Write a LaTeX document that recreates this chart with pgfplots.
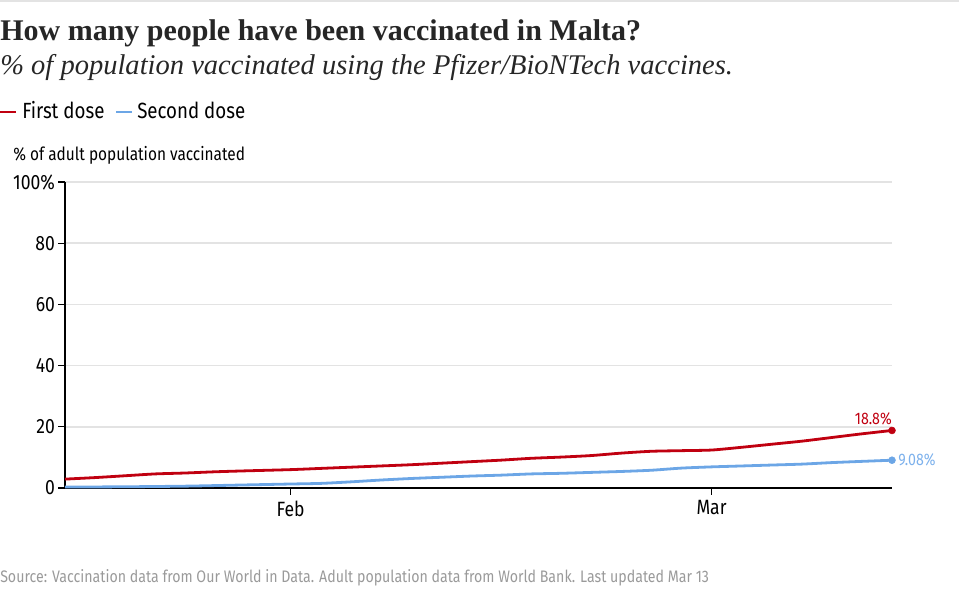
\documentclass[border=0pt]{standalone}
\usepackage{pgfplots}
\pgfplotsset{compat=1.18}
\usepackage{fontspec}
\setmainfont{Liberation Serif}
\newfontfamily\condsans[FakeStretch=0.85]{Fira Sans}
\definecolor{firstred}{HTML}{C00010}
\definecolor{secblue}{HTML}{6CA6E6}
\definecolor{secbluelab}{HTML}{7DB1EC}
\definecolor{gridgray}{HTML}{E3E3E3}
\definecolor{footgray}{HTML}{9A9A9A}
\begin{document}
\begin{tikzpicture}
\path[use as bounding box] (0,0) rectangle (719.25pt,453.75pt);
\draw[gridgray, line width=1.5pt] (0,453pt) -- (719.25pt,453pt);
\node[anchor=base west, inner sep=0, text=black!85] at (0,423pt) {\fontsize{22.5}{26}\selectfont\bfseries How many people have been vaccinated in Malta?};
\node[anchor=base west, inner sep=0, text=black!85] at (0,397.5pt) {\fontsize{21.4}{25}\selectfont\itshape \% of population vaccinated using the Pfizer/BioNTech vaccines.};
\draw[firstred, line width=1.6pt] (0,369.5pt) -- (12pt,369.5pt);
\node[anchor=base west, inner sep=0] at (16.5pt,365pt) {\condsans\fontsize{16.5}{19}\selectfont First dose};
\draw[secblue, line width=1.6pt] (87pt,369.5pt) -- (99pt,369.5pt);
\node[anchor=base west, inner sep=0] at (102.75pt,365pt) {\condsans\fontsize{16.5}{19}\selectfont Second dose};
\node[anchor=base west, inner sep=0] at (9.75pt,333pt) {\condsans\fontsize{13.6}{16}\selectfont \% of adult population vaccinated};
\node[anchor=base west, inner sep=0, text=footgray] at (0,16.5pt) {\condsans\fontsize{12.5}{14}\selectfont Source: Vaccination data from Our World in Data. Adult population data from World Bank. Last updated Mar 13};
\begin{axis}[
  at={(48.75pt,87.75pt)}, anchor=south west,
  scale only axis, width=620.25pt, height=229.5pt,
  xmin=16, xmax=71, ymin=0, ymax=100,
  axis x line*=bottom, axis y line*=left,
  axis line style={black, line width=0.9pt, -},
  xtick={31,59}, xticklabels={Feb,Mar},
  ytick={0,20,40,60,80,100}, yticklabels={0,20,40,60,80,100\%},
  tick align=outside, major tick length=5pt,
  tick style={black, line width=0.8pt},
  ymajorgrids, grid style={gridgray, line width=1.1pt},
  ticklabel style={font=\condsans\fontsize{15.5}{18}\selectfont, text=black},
  yticklabel style={xshift=1pt},
  xticklabel style={yshift=-1pt},
  /pgf/number format/assume math mode=true,
  clip=false,
]
\addplot[firstred, line width=2.1pt, smooth, tension=0.4] coordinates {
(16,2.9) (18,3.4) (20,4.0) (22,4.6) (24,4.9) (26,5.3) (28,5.6) (31,6.0)
(33,6.4) (35,6.8) (37,7.2) (39,7.6) (41,8.1) (43,8.6) (45,9.1) (47,9.7)
(49,10.1) (51,10.6) (53,11.4) (55,12.0) (57,12.2) (59,12.4) (61,13.3)
(63,14.3) (65,15.3) (67,16.5) (69,17.7) (71,18.8)};
\addplot[secblue, line width=2.1pt, smooth, tension=0.4] coordinates {
(16,0.3) (20,0.4) (24,0.6) (28,1.0) (31,1.3) (33,1.5) (35,2.0) (37,2.6)
(39,3.1) (41,3.5) (43,3.9) (45,4.2) (47,4.6) (49,4.8) (51,5.1) (53,5.4)
(55,5.8) (57,6.5) (59,6.9) (61,7.2) (63,7.5) (65,7.8) (67,8.3) (69,8.7)
(71,9.08)};
\addplot[only marks, mark=*, mark size=2.6pt, firstred] coordinates {(71,18.8)};
\addplot[only marks, mark=*, mark size=2.6pt, secblue] coordinates {(71,9.08)};
\node[anchor=south east, inner sep=0, text=firstred, font=\condsans\fontsize{12.5}{15}\selectfont] at (axis cs:71,20.6) {18.8\%};
\node[anchor=west, inner sep=0, text=secbluelab, font=\condsans\fontsize{12.5}{15}\selectfont] at (axis cs:71.4,9.08) {9.08\%};
\end{axis}
\end{tikzpicture}
\end{document}
